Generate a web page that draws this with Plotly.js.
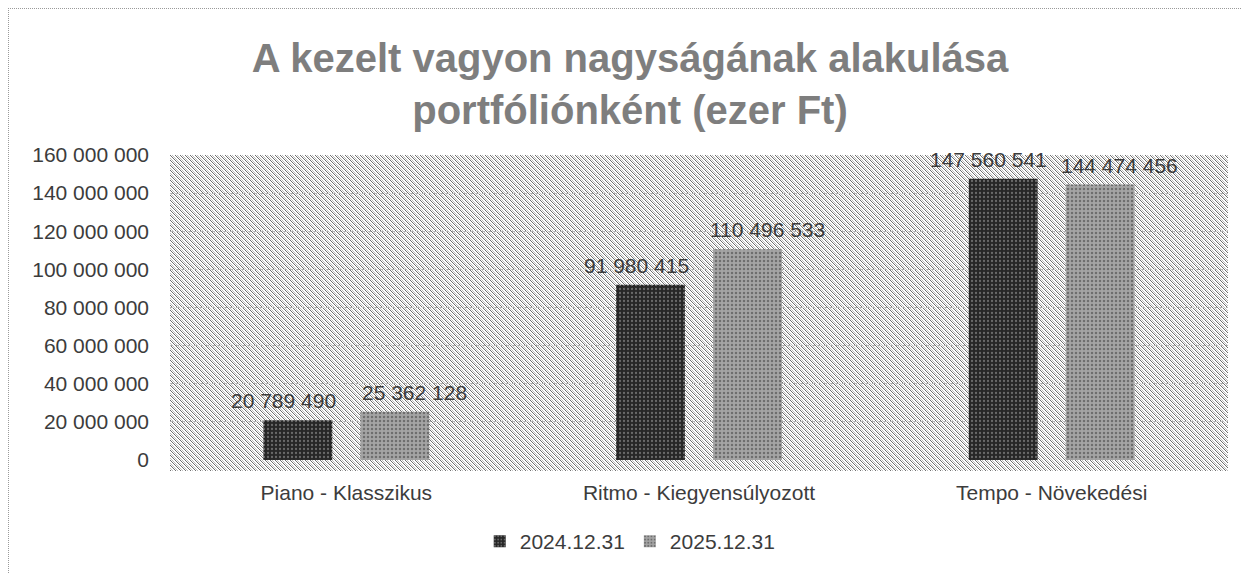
<!DOCTYPE html>
<html>
<head>
<meta charset="utf-8">
<script src="https://cdn.plot.ly/plotly-3.0.1.min.js"></script>
<style>
  html, body { margin: 0; padding: 0; background: #ffffff; width: 1242px; height: 574px; overflow: hidden; }
  #frame { position: absolute; left: 8px; top: 8px; width: 1240px; height: 570px;
           border-top: 1px dotted #9a9a9a; border-left: 1px dotted #9a9a9a; }
  #hatch { position: absolute; left: 170px; top: 155px; width: 1058px; height: 316px; background-repeat: repeat; }
  #chart { position: absolute; left: 0; top: 0; width: 1242px; height: 574px; }
</style>
</head>
<body>
<div id="frame"></div>
<div id="hatch"></div>
<div id="chart"></div>
<script>
const categories = ["Piano - Klasszikus", "Ritmo - Kiegyensúlyozott", "Tempo - Növekedési"];
const seriesNames = ["2024.12.31", "2025.12.31"];
const values2024 = [20789490, 91980415, 147560541];
const values2025 = [25362128, 110496533, 144474456];
const tickValues = [0, 20000000, 40000000, 60000000, 80000000, 100000000, 120000000, 140000000, 160000000];

const labelFont = { family: "Liberation Sans, Arial, sans-serif", size: 21, color: "#3c3c3c" };

// pixel-exact diagonal hatch tile for the plot area background
(function () {
  const n = 5;
  const cv = document.createElement("canvas");
  cv.width = n; cv.height = n;
  const ctx = cv.getContext("2d");
  ctx.fillStyle = "#ffffff"; ctx.fillRect(0, 0, n, n);
  for (let k = 0; k < n; k++) {
    ctx.fillStyle = "#6e6e6e"; ctx.fillRect(k, k, 1, 1);
    ctx.fillStyle = "#bdbdbd"; ctx.fillRect((k + 2) % n, k, 1, 1);
  }
  document.getElementById("hatch").style.backgroundImage = "url(" + cv.toDataURL() + ")";
})();

function fmt(v) {
  return String(v).replace(/\B(?=(\d{3})+(?!\d))/g, " ");
}

const traces = [
  {
    type: "bar", name: seriesNames[0], x: categories, y: values2024,
    marker: { color: "#262626", pattern: { shape: ".", bgcolor: "#262626", fgcolor: "#6a6a6a", size: 4, solidity: 0.25 } },
    hoverinfo: "skip"
  },
  {
    type: "bar", name: seriesNames[1], x: categories, y: values2025,
    marker: { color: "#9e9e9e", pattern: { shape: ".", bgcolor: "#a4a4a4", fgcolor: "#6e6e6e", size: 4, solidity: 0.3 } },
    hoverinfo: "skip"
  }
];

// data labels, placed through the axes at each bar's category/value
const annotations = [];
categories.forEach((c, i) => {
  annotations.push({ x: c, y: values2024[i], xref: "x", yref: "y", text: fmt(values2024[i]),
    showarrow: false, xanchor: "center", yanchor: "bottom", xshift: -63, yshift: 6, font: labelFont });
  annotations.push({ x: c, y: values2025[i], xref: "x", yref: "y", text: fmt(values2025[i]),
    showarrow: false, xanchor: "center", yanchor: "bottom", xshift: 68, yshift: 6, font: labelFont });
});

const layout = {
  width: 1242, height: 574,
  margin: { l: 170, r: 14, t: 155, b: 103 },
  paper_bgcolor: "rgba(0,0,0,0)",
  plot_bgcolor: "rgba(0,0,0,0)",
  separators: ", ",
  barmode: "group",
  bargap: 0.45,
  bargroupgap: 0.29,
  title: {
    text: "A kezelt vagyon nagyságának alakulása<br>portfóliónként (ezer Ft)",
    font: { family: "Liberation Sans, Arial, sans-serif", size: 40, color: "#7e7e7e", weight: "bold" },
    x: 630 / 1242, xref: "container", xanchor: "center",
    y: 1 - 72 / 574, yref: "container", yanchor: "top"
  },
  xaxis: {
    type: "category",
    tickfont: labelFont,
    showgrid: false, zeroline: false, showline: false,
    ticks: "", ticklabelstandoff: 18
  },
  yaxis: {
    range: [0, 160000000],
    tickvals: tickValues,
    tickformat: ",d",
    tickfont: labelFont,
    showgrid: true, gridcolor: "#b4b4b4", griddash: "dot", gridwidth: 1,
    zeroline: false, showline: false, ticks: "", ticklabelstandoff: 20
  },
  annotations: annotations,
  showlegend: true,
  legend: {
    orientation: "h", x: 0.435, xanchor: "center", y: -0.2, yanchor: "top",
    font: labelFont, itemwidth: 30
  }
};

Plotly.newPlot("chart", traces, layout, { displayModeBar: false, staticPlot: true });
</script>
</body>
</html>
